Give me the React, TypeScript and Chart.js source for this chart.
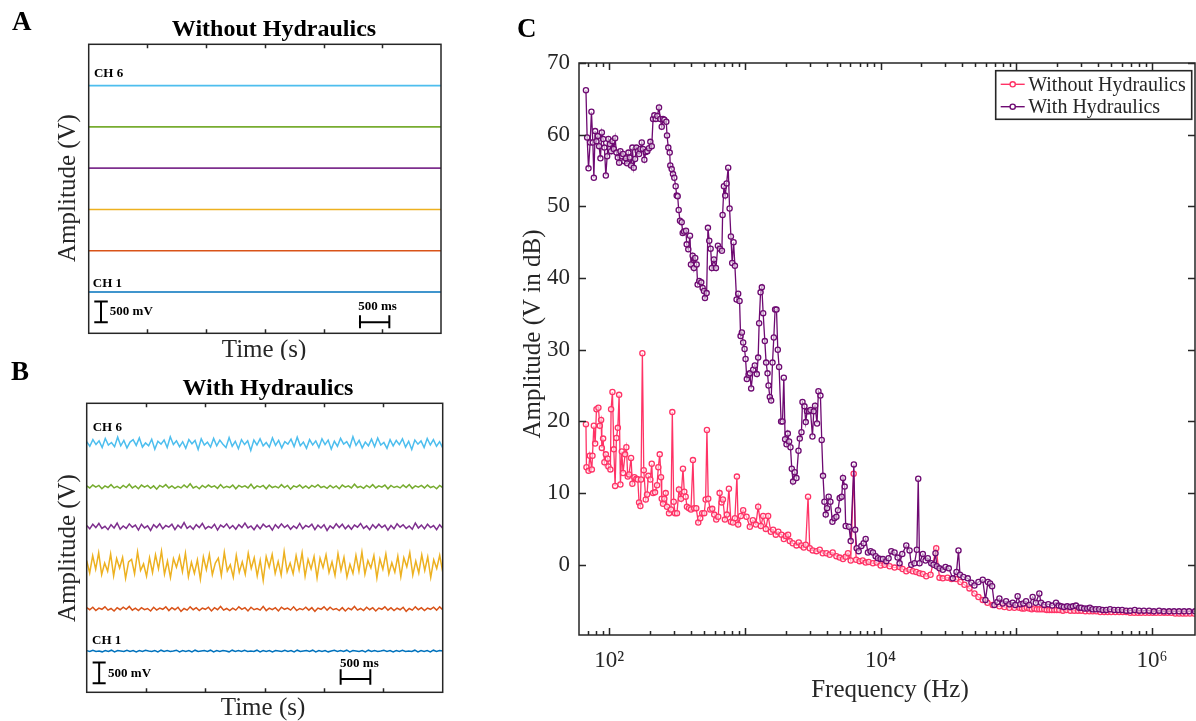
import React, { useEffect, useRef } from 'react';
import { Chart, registerables } from 'chart.js';

Chart.register(...registerables);

const SERIF = '"Liberation Serif", "Times New Roman", Times, serif';
const INK = '#262626';

/* ---------------- Panels A and B : six stacked channels ---------------- */
const channelColors = ['#0072BD', '#D95319', '#EDB120', '#7E2F8E', '#77AC30', '#4DBEEE'];
const timeTicksS = [1, 2, 3, 4, 5];
const traceDurationS = 6;

// A - without hydraulics: flat traces, stacked 1 V apart
const dryTimesS = [0, 6];
const dryLevelsV = [1, 2, 3, 4, 5, 6];

// B - with hydraulics: channel baselines (V) and noise around them (mV)
const wetBaselinesV = [1.0, 2.02, 3.07, 4.01, 4.98, 6.03];
const ch1NoiseMv = [10, -10, 20, -10, 0, -20, 10, -10, 20, -20, 10, 0, -10, 20, -10, 10, -20, 10, -10, 20, 0, -10, 10, -20, 20, -10, 10, -10, 0, 20, -20, 10, -10, 10, -20, 20, -10, 0, 10, -10, 20, -20, 10, -10, 10, 0, -20, 20, -10, 10, -10, 20, -10, 0, -10, 20, -20, 10, -10, 10, -20, 10, 0, -10, 20, -10, 10, -20, 20, -10, 0, 10, -10, 20, -20, 10, -10, 10, -20, 0, 20, -10, 10, -10, 20, -20, 10, 0, -10, 10, -20, 20, -10, 10, -10, 0, 20, -10, 10, -20, 10, -10, 20, -10, 0, -10, 20, -20, 10, -10, 10, -20, 20, -10, 10, 0];
const ch2NoiseMv = [30, -20, 40, -40, 20, -10, 50, -30, 10, -50, 30, -20, 40, -10, 60, -30, 20, -40, 30, -20, 10, -50, 40, -30, 20, -10, 50, -40, 30, -20, 40, -60, 10, -30, 50, -20, 30, -40, 20, -10, 40, -50, 30, -20, 60, -30, 10, -40, 20, -30, 50, -10, 30, -50, 40, -20, 10, -30, 60, -40, 20, -20, 30, -50, 40, -10, 20, -30, 50, -40, 10, -20, 40, -30, 30, -60, 20, -10, 50, -30, 40, -20, 10, -40, 30, -50, 20, -20, 60, -30, 10, -40, 40, -20, 30, -50, 20, -10, 50, -30, 30, -40, 20, -20, 40, -60, 10, -30, 50, -20, 30, -40, 20, -10, 40, -30, 50, -20];
const ch3NoiseMv = [120, -180, 240, -90, 310, -220, 60, -140, 280, -250, 170, -60, 200, -310, 90, 150, -200, 330, -120, 40, -260, 190, -170, 260, -80, 350, -210, 110, -290, 170, -40, 230, -150, 300, -270, 80, -190, 140, -330, 210, -100, 270, -220, 60, 180, -240, 320, -130, 20, -280, 250, -160, 90, -210, 300, -70, 190, -250, 130, -360, 220, -40, 270, -190, 100, -230, 340, -150, 60, -200, 240, -110, 310, -260, 150, -80, 220, -300, 180, -50, 260, -170, 90, -240, 290, -120, 200, -280, 30, -190, 250, -140, 330, -210, 120, -60, 240, -300, 160, -90, 280, -200, 70, -160, 230, -270, 190, -30, 310, -230, 110, -180, 260, -120, 210, -290, 140, -70, 250, -150];
const ch4NoiseMv = [30, -50, 60, -20, 80, -40, 10, -70, 50, -30, 90, -60, 20, -40, 70, -10, 40, -80, 60, -30, 20, -90, 50, -20, 70, -50, 30, -10, 60, -70, 40, -30, 100, -40, 20, -60, 50, -20, 80, -50, 10, -30, 60, -80, 40, -10, 70, -40, 30, -60, 50, -20, 90, -30, 20, -70, 40, -50, 60, -10, 30, -80, 50, -30, 70, -20, 40, -60, 20, -40, 80, -50, 30, -10, 60, -70, 40, -30, 50, -90, 20, -40, 70, -20, 60, -50, 30, -60, 40, -10, 80, -40, 20, -70, 50, -30, 60, -20, 40, -80, 30, -50, 70, -10, 50, -40, 20, -60, 90, -30, 40, -50, 60, -20, 30, -70, 50, -40];
const ch5NoiseMv = [20, -30, 40, -10, 30, -50, 20, -20, 50, -30, 10, -40, 30, -20, 60, -30, 20, -50, 40, -10, 30, -40, 20, -60, 30, -10, 50, -30, 20, -40, 10, -30, 40, -20, 70, -30, 10, -50, 30, -20, 40, -10, 20, -40, 50, -30, 10, -20, 40, -50, 30, -10, 20, -30, 60, -40, 20, -10, 30, -50, 40, -20, 10, -30, 50, -20, 30, -60, 20, -10, 40, -30, 20, -40, 30, -10, 50, -20, 10, -40, 30, -30, 20, -50, 40, -10, 20, -30, 60, -20, 10, -40, 30, -20, 50, -30, 20, -10, 40, -50, 30, -20, 10, -30, 40, -20, 50, -40, 20, -10, 30, -30, 40, -20, 10, -50, 30, -20];
const ch6NoiseMv = [40, -70, 90, -30, 60, -100, 120, -40, 20, -80, 150, -60, 70, -110, 30, 90, -50, 130, -90, 10, -60, 100, -140, 50, -20, 80, -100, 160, -30, 60, -80, 40, -120, 90, -10, 70, -150, 110, -40, 30, -90, 120, -60, 80, -20, -100, 140, -70, 50, -130, 90, -30, 60, -170, 80, -40, 110, -60, 20, -90, 130, -50, 70, -110, 40, -20, 100, -80, 150, -60, 30, -120, 90, -40, 60, -100, 110, -30, 80, -140, 50, -70, 120, -20, 40, -90, 160, -50, 70, -110, 30, -60, 100, -80, 130, -40, 20, -120, 90, -60, 70, -30, 110, -90, 50, -150, 80, -20, 60, -100, 120, -40, 90, -70, 40, -110];
const wetNoiseMv = [ch1NoiseMv, ch2NoiseMv, ch3NoiseMv, ch4NoiseMv, ch5NoiseMv, ch6NoiseMv];

// scale-bar annotations (time in s, amplitude in V)
const scaleBarsA = { vX: 0.21, vY: [0.27, 0.77], vCap: [0.095, 0.325], hX: [4.62, 5.12], hY: 0.27, hCap: [0.12, 0.44] };
const scaleBarsB = { vX: 0.21, vY: [0.22, 0.72], vCap: [0.1, 0.32], hX: [4.28, 4.78], hY: 0.32, hCap: [0.18, 0.56] };

/* ---------------- Panel C : spectra ---------------- */
const freqWithoutHz = [
  67.5, 68.1, 70.5, 72.1, 74.6, 75.4, 77.2, 78.9, 80.7, 83.4,
  85.4, 87.3, 88.4, 90.3, 92.3, 94.6, 97.8, 98.8, 102.2, 103.4,
  105.8, 108.3, 110.7, 113.2, 115.9, 118.5, 121.1, 124.0, 126.7, 131.1,
  134.0, 137.2, 140.3, 145.1, 148.3, 153.5, 158.8, 162.6, 166.2, 169.9,
  171.9, 175.8, 180.0, 186.2, 190.3, 194.5, 201.2, 206.1, 210.7, 217.9,
  225.4, 230.4, 236.0, 241.2, 244.1, 249.5, 255.1, 261.2, 267.0, 276.2,
  285.7, 292.1, 299.1, 305.8, 316.2, 327.1, 338.4, 350.0, 357.9, 366.4,
  374.5, 387.4, 400.8, 414.6, 423.8, 438.4, 453.5, 469.1, 485.3, 502.0,
  514.0, 525.5, 537.2, 555.7, 574.9, 594.7, 615.2, 636.4, 651.6, 674.1,
  689.0, 712.8, 737.4, 762.9, 789.2, 816.4, 844.6, 873.7, 892.9, 934.5,
  971.6, 1029, 1088, 1145, 1205, 1253, 1312, 1364, 1427, 1484,
  1554, 1615, 1690, 1764, 1862, 1936, 2002, 2082, 2142, 2253,
  2399, 2495, 2612, 2715, 2809, 2921, 3006, 3162, 3367, 3561,
  3746, 3988, 4217, 4437, 4724, 4995, 5283, 5530, 5751, 6020,
  6332, 6606, 7009, 7373, 7758, 8164, 8779, 9346, 10000, 10700,
  11650, 12670, 13800, 14510, 15450, 16340, 17280, 18300, 19360, 20460,
  21680, 23320, 25680, 27150, 28720, 31100, 33290, 36040, 38740, 41460,
  45120, 49120, 52560, 56530, 61220, 66950, 74990, 81600, 88820, 96670,
  105200, 110000, 114500, 119500, 124600, 130000, 135700, 141500, 147600, 154000,
  160600, 167500, 174800, 182500, 190300, 198500, 207200, 220000, 233200, 250000,
  267000, 284000, 300600, 322000, 344300, 365000, 387500, 415000, 443700, 470000,
  499500, 535000, 572000, 607000, 643800, 690000, 737300, 785000, 830100, 890000,
  950400, 1010000, 1070000, 1145000, 1225000, 1300000, 1380000, 1480000, 1580000, 1680000,
  1778000, 1900000, 2037000,
];
const dbWithout = [
  19.6, 13.6, 13.1, 15.2, 13.3, 15.2, 19.4, 16.9, 21.7, 21.9,
  19.4, 20.2, 16.3, 17.6, 14.3, 15.4, 14.8, 13.7, 13.3, 21.7,
  24.1, 16.1, 11.0, 17.7, 19.1, 23.7, 11.2, 15.8, 12.8, 15.4,
  16.4, 12.3, 12.6, 14.9, 11.3, 12.2, 12.0, 11.9, 8.7, 8.2,
  11.9, 29.5, 13.2, 9.1, 9.8, 12.4, 11.9, 14.1, 10.0, 10.1,
  11.1, 13.6, 15.4, 12.2, 9.2, 8.5, 9.2, 10.0, 8.1, 7.2,
  7.7, 21.3, 8.8, 7.2, 7.2, 10.5, 9.2, 13.4, 10.2, 9.5,
  8.1, 7.9, 7.7, 14.6, 7.9, 7.9, 5.9, 6.5, 7.2, 7.2,
  9.1, 18.8, 9.2, 7.7, 7.8, 7.0, 6.3, 6.7, 10.0, 8.7,
  9.1, 6.3, 7.0, 10.6, 6.0, 5.9, 6.5, 12.3, 5.6, 6.8,
  7.6, 6.7, 5.3, 6.2, 5.6, 8.1, 5.4, 6.8, 5.0, 6.8,
  4.6, 4.9, 4.2, 4.6, 4.2, 3.6, 4.0, 4.2, 3.3, 3.0,
  2.7, 3.1, 2.7, 2.4, 2.8, 9.5, 2.3, 2.0, 1.9, 2.1,
  1.6, 1.6, 1.4, 1.7, 1.2, 1.0, 0.8, 1.1, 1.6, 0.6,
  12.7, 0.7, 0.5, 0.6, 0.3, 0.4, 0.2, 0.3, -0.1, 0.0,
  -0.2, -0.4, -0.3, -0.6, -0.9, -0.7, -0.9, -1.0, -1.2, -1.3,
  -1.6, -1.4, 2.3, -1.8, -1.9, -1.8, -2.0, -2.0, -2.4, -2.8,
  -3.3, -4.0, -4.5, -4.9, -5.3, -5.6, -5.8, -5.9, -6.0, -6.0,
  -6.0, -6.1, -6.1, -6.0, -6.1, -6.2, -6.1, -6.2, -6.2, -6.2,
  -6.2, -6.3, -6.3, -6.3, -6.3, -6.3, -6.3, -6.4, -6.3, -6.4,
  -6.4, -6.4, -6.4, -6.5, -6.5, -6.5, -6.5, -6.6, -6.6, -6.6,
  -6.6, -6.6, -6.6, -6.6, -6.6, -6.7, -6.7, -6.7, -6.7, -6.7,
  -6.7, -6.7, -6.7, -6.7, -6.7, -6.7, -6.7, -6.8, -6.8, -6.8,
  -6.8, -6.8, -6.8,
];
const freqWithHz = [
  67.5, 68.9, 70.5, 72.5, 74.1, 75.9, 77.2, 78.9, 80.7, 82.6,
  84.4, 86.3, 88.4, 90.3, 92.3, 94.6, 96.7, 98.8, 101.2, 103.4,
  105.8, 108.3, 110.7, 113.2, 115.9, 118.5, 121.1, 124.0, 126.7, 129.6,
  132.7, 135.6, 138.7, 142.0, 145.1, 148.3, 151.9, 155.3, 158.8, 162.6,
  166.2, 169.9, 174.0, 177.8, 181.8, 186.2, 191.2, 196.8, 201.2, 206.1,
  210.7, 215.4, 220.5, 226.5, 233.1, 238.3, 244.1, 249.5, 255.1, 263.8,
  267.0, 272.9, 279.5, 282.3, 289.1, 295.5, 302.1, 309.3, 314.6, 320.0,
  325.5, 332.8, 342.5, 348.4, 356.1, 368.4, 372.8, 383.0, 394.2, 400.8,
  412.5, 421.7, 430.9, 441.4, 448.9, 461.3, 477.2, 488.7, 499.6, 508.2,
  523.0, 534.5, 546.5, 559.5, 572.0, 591.7, 612.0, 633.2, 655.0, 677.6,
  685.5, 700.9, 716.5, 733.6, 753.7, 771.7, 789.2, 806.7, 826.1, 844.6,
  869.0, 892.9, 914.2, 929.9, 950.4, 971.6, 995, 1012, 1034, 1065,
  1088, 1113, 1151, 1184, 1225, 1253, 1274, 1305, 1334, 1364,
  1403, 1434, 1469, 1494, 1527, 1561, 1598, 1634, 1670, 1710,
  1748, 1787, 1849, 1893, 1936, 1979, 2027, 2072, 2117, 2168,
  2216, 2265, 2331, 2399, 2483, 2538, 2612, 2657, 2748, 2809,
  2872, 2971, 3042, 3147, 3217, 3288, 3401, 3483, 3603, 3683,
  3764, 3855, 3941, 4028, 4146, 4267, 4415, 4567, 4724, 4853,
  4995, 5168, 5283, 5437, 5530, 5848, 6020, 6353, 6494, 6660,
  6891, 7215, 7499, 7758, 8065, 8444, 8779, 9188, 9553, 10000,
  10390, 11010, 11450, 11990, 12670, 13340, 13800, 14440, 15450, 16340,
  16820, 17780, 18490, 18930, 19360, 20460, 21430, 22270, 23600, 24530,
  25370, 25940, 27150, 28720, 30060, 31780, 34010, 36230, 37470, 38430,
  40770, 43850, 46680, 49120, 52560, 56530, 59180, 61730, 64060, 66270,
  68900, 72480, 74990, 79300, 84030, 88820, 93930, 98310, 102200, 107000,
  112600, 117900, 124600, 131800, 139100, 147600, 151900, 160600, 171900, 183900,
  195900, 205000, 214000, 224000, 236800, 249500, 261000, 274800, 290100, 300600,
  316000, 332800, 348000, 363900, 385000, 407800, 432000, 459000, 490000, 525600,
  562000, 601700, 645000, 689000, 745000, 802500, 870000, 950400, 1030000, 1126000,
  1220000, 1334000, 1450000, 1580000, 1720000, 1871000, 2071000,
];
const dbWith = [
  66.2, 59.6, 55.3, 58.9, 63.2, 58.9, 54.0, 60.5, 59.1, 59.8,
  58.4, 56.7, 60.3, 59.4, 58.2, 54.3, 57.0, 59.4, 58.7, 57.7,
  59.1, 58.0, 59.5, 57.5, 56.8, 56.1, 57.7, 57.0, 57.3, 56.3,
  56.7, 56.0, 57.5, 56.8, 55.7, 58.2, 55.4, 56.6, 58.2, 57.7,
  57.3, 58.0, 58.9, 58.0, 56.5, 57.6, 57.7, 58.1, 59.0, 58.4,
  62.2, 62.7, 62.2, 62.6, 63.8, 62.2, 61.1, 62.2, 62.1, 61.8,
  59.9, 58.2, 57.5, 55.7, 55.2, 54.5, 54.0, 52.8, 51.5, 51.4,
  49.5, 48.0, 47.8, 46.3, 46.5, 46.6, 44.7, 44.0, 45.9, 41.9,
  43.1, 41.4, 42.8, 41.9, 39.1, 39.6, 39.4, 38.6, 38.2, 37.2,
  37.9, 47.0, 45.2, 44.1, 41.4, 42.6, 41.4, 44.5, 44.1, 43.8,
  48.8, 52.8, 51.5, 53.2, 55.4, 49.7, 45.8, 42.1, 45.0, 41.7,
  37.0, 37.8, 36.8, 31.9, 32.4, 31.0, 30.1, 28.7, 25.9, 26.5,
  26.7, 24.6, 27.2, 27.8, 26.6, 28.9, 33.7, 38.0, 38.7, 35.1,
  31.2, 28.2, 26.7, 25.0, 23.4, 22.9, 28.2, 31.7, 35.6, 35.6,
  30.0, 27.6, 20.0, 20.0, 26.1, 17.5, 16.8, 18.3, 17.2, 16.4,
  13.4, 11.6, 12.9, 12.1, 15.9, 17.6, 18.5, 22.7, 22.1, 19.9,
  21.4, 21.4, 21.6, 17.9, 21.4, 22.2, 19.7, 24.2, 23.6, 17.4,
  12.4, 8.8, 7.0, 7.9, 9.5, 8.8, 6.0, 6.5, 6.7, 7.6,
  9.3, 9.5, 12.1, 10.9, 5.4, 5.3, 3.3, 14.0, 4.9, 2.3,
  1.9, 2.6, 3.0, 3.6, 1.7, 1.9, 1.7, 1.2, 0.9, 0.8,
  0.8, 0.5, 0.9, 1.9, 1.7, 1.0, 0.2, 1.5, 2.7, 2.0,
  0.0, 0.2, 2.1, 12.0, 0.2, 1.5, 0.6, 0.9, 0.2, 0.0,
  1.6, -0.2, -0.5, -0.7, -0.3, -0.5, -1.9, -1.0, 2.0, -1.4,
  -1.7, -1.9, -2.5, -2.9, -2.4, -2.1, -4.9, -2.4, -2.6, -3.0,
  -5.6, -5.2, -4.7, -5.4, -5.1, -5.5, -5.3, -5.6, -4.4, -5.5,
  -5.4, -5.1, -5.6, -4.5, -5.3, -4.0, -5.3, -5.6, -5.5, -5.7,
  -5.3, -5.7, -5.8, -5.9, -5.8, -5.9, -5.8, -5.7, -6.0, -6.0,
  -6.1, -6.1, -6.0, -6.2, -6.2, -6.2, -6.3, -6.3, -6.2, -6.3,
  -6.3, -6.3, -6.4, -6.4, -6.3, -6.4, -6.4, -6.4, -6.5, -6.4,
  -6.5, -6.5, -6.5, -6.5, -6.5, -6.5, -6.5,
];
const seriesNames = ['Without Hydraulics', 'With Hydraulics'];
const seriesColors = ['#FF3366', '#6E0A72'];
const ampTicksDb = [0, 10, 20, 30, 40, 50, 60, 70];
const freqTickLabels: Record<number, string> = { 100: '10\u00B2', 10000: '10\u2074', 1000000: '10\u2076' };
const freqMinorTicks = [60, 70, 80, 90];
const freqDecades = [100, 1000, 10000, 100000];
const freqMax = 2.07e6;

/* ---------------- helpers ---------------- */
function scaleBarData(b: any) {
  return [
    { x: b.vX, y: b.vY[0] }, { x: b.vX, y: b.vY[1] }, { x: b.vX, y: null },
    { x: b.vCap[0], y: b.vY[0] }, { x: b.vCap[1], y: b.vY[0] }, { x: b.vCap[1], y: null },
    { x: b.vCap[0], y: b.vY[1] }, { x: b.vCap[1], y: b.vY[1] }, { x: b.vCap[1], y: null },
    { x: b.hX[0], y: b.hY }, { x: b.hX[1], y: b.hY }, { x: b.hX[1], y: null },
    { x: b.hX[0], y: b.hCap[0] }, { x: b.hX[0], y: b.hCap[1] }, { x: b.hX[0], y: null },
    { x: b.hX[1], y: b.hCap[0] }, { x: b.hX[1], y: b.hCap[1] },
  ];
}

const tracePanelPlugin = {
  id: 'tracePanel',
  afterDraw(chart: any, _args: any, o: any) {
    const { ctx, chartArea: a, scales } = chart;
    const xs = scales.x;
    const ys = scales.y;
    ctx.save();
    ctx.strokeStyle = INK;
    ctx.lineWidth = 1.5;
    ctx.strokeRect(a.left, a.top, a.right - a.left, a.bottom - a.top);
    ctx.beginPath();
    for (const t of timeTicksS) {
      const px = Math.round(xs.getPixelForValue(t)) + 0.5;
      ctx.moveTo(px, a.top);
      ctx.lineTo(px, a.top + 4);
      ctx.moveTo(px, a.bottom);
      ctx.lineTo(px, a.bottom - 4);
    }
    ctx.stroke();

    ctx.textBaseline = 'alphabetic';
    ctx.fillStyle = '#000';
    ctx.textAlign = 'left';
    ctx.font = `bold 27px ${SERIF}`;
    ctx.fillText(o.letter, o.letterX, o.letterY);

    ctx.textAlign = 'center';
    ctx.font = `bold 24px ${SERIF}`;
    ctx.fillText(o.title, o.titleX, o.titleY);

    ctx.fillStyle = INK;
    ctx.font = `25px ${SERIF}`;
    ctx.fillText('Time (s)', o.xTitleX, o.xTitleY);
    ctx.save();
    ctx.translate(o.yTitleX, o.yTitleY);
    ctx.rotate(-Math.PI / 2);
    ctx.textBaseline = 'middle';
    ctx.fillText('Amplitude (V)', 0, 0);
    ctx.restore();

    ctx.fillStyle = '#000';
    ctx.textAlign = 'left';
    ctx.textBaseline = 'alphabetic';
    ctx.font = `bold 13px ${SERIF}`;
    for (const l of o.labels) {
      ctx.fillText(l.text, xs.getPixelForValue(l.t), ys.getPixelForValue(l.v));
    }
    ctx.restore();
  },
};

function tracePanelConfig(traces: any[], bars: any, padding: any, decor: any, lineWidth: number) {
  return {
    type: 'line',
    data: {
      datasets: [
        ...traces.map((pts, i) => ({
          data: pts,
          borderColor: channelColors[i],
          borderWidth: lineWidth,
          pointRadius: 0,
          tension: 0,
          fill: false,
        })),
        {
          data: scaleBarData(bars),
          borderColor: '#000',
          borderWidth: 2,
          pointRadius: 0,
          tension: 0,
          fill: false,
          spanGaps: false,
        },
      ],
    },
    options: {
      animation: false,
      responsive: false,
      devicePixelRatio: 1,
      events: [],
      layout: { padding, autoPadding: false },
      scales: {
        x: { type: 'linear', min: 0, max: traceDurationS, display: false },
        y: { type: 'linear', min: 0, max: 7, display: false },
      },
      plugins: { legend: { display: false }, tooltip: { enabled: false }, tracePanel: decor },
    },
    plugins: [tracePanelPlugin],
  };
}

const spectrumPlugin = {
  id: 'spectrumDecor',
  afterDraw(chart: any) {
    const { ctx, chartArea: a, scales } = chart;
    const xs = scales.x;
    const ys = scales.y;
    ctx.save();
    ctx.strokeStyle = INK;
    ctx.lineWidth = 1.5;
    ctx.strokeRect(a.left, a.top, a.right - a.left, a.bottom - a.top);
    ctx.beginPath();
    for (const t of xs.ticks) {
      const px = Math.round(xs.getPixelForValue(t.value)) + 0.5;
      if (px < a.left + 2 || px > a.right - 2) continue;
      const lg = Math.log10(t.value);
      const len = Math.abs(lg - Math.round(lg)) < 1e-9 ? 7 : 4;
      ctx.moveTo(px, a.bottom);
      ctx.lineTo(px, a.bottom - len);
      ctx.moveTo(px, a.top);
      ctx.lineTo(px, a.top + len);
    }
    for (const t of ys.ticks) {
      const py = Math.round(ys.getPixelForValue(t.value)) + 0.5;
      ctx.moveTo(a.left, py);
      ctx.lineTo(a.left + 7, py);
      ctx.moveTo(a.right, py);
      ctx.lineTo(a.right - 7, py);
    }
    ctx.stroke();

    // legend
    const lx = 495.7;
    const ly = 70.7;
    ctx.fillStyle = '#fff';
    ctx.fillRect(lx, ly, 196, 48.6);
    ctx.strokeStyle = INK;
    ctx.lineWidth = 1.6;
    ctx.strokeRect(lx, ly, 196, 48.6);
    ctx.font = `20px ${SERIF}`;
    ctx.textAlign = 'left';
    ctx.textBaseline = 'middle';
    seriesNames.forEach((name, i) => {
      const yy = ly + 13.6 + i * 22.4;
      ctx.strokeStyle = seriesColors[i];
      ctx.lineWidth = 1.4;
      ctx.beginPath();
      ctx.moveTo(lx + 5, yy);
      ctx.lineTo(lx + 29, yy);
      ctx.stroke();
      ctx.beginPath();
      ctx.arc(lx + 17, yy, 2.6, 0, Math.PI * 2);
      ctx.fillStyle = '#fff';
      ctx.fill();
      ctx.stroke();
      ctx.fillStyle = INK;
      ctx.fillText(name, lx + 32.5, yy + 1);
    });

    // titles and panel letter
    ctx.fillStyle = INK;
    ctx.font = `25px ${SERIF}`;
    ctx.textAlign = 'center';
    ctx.textBaseline = 'middle';
    ctx.fillText('Frequency (Hz)', 390, 690);
    ctx.save();
    ctx.translate(33, 334);
    ctx.rotate(-Math.PI / 2);
    ctx.fillText('Amplitude (V in dB)', 0, 0);
    ctx.restore();

    ctx.fillStyle = '#000';
    ctx.textAlign = 'left';
    ctx.textBaseline = 'alphabetic';
    ctx.font = `bold 27px ${SERIF}`;
    ctx.fillText('C', 17, 36.7);
    ctx.restore();
  },
};

function spectrumConfig() {
  const sets = [
    { f: freqWithoutHz, v: dbWithout, order: 2 },
    { f: freqWithHz, v: dbWith, order: 1 },
  ];
  const xTicks: number[] = [...freqMinorTicks];
  for (const d of freqDecades) for (let k = 1; k <= 9; k++) xTicks.push(k * d);
  xTicks.push(1e6, 2e6);
  return {
    type: 'line',
    data: {
      datasets: sets.map((s, i) => ({
        label: seriesNames[i],
        data: s.f.map((f, j) => ({ x: f, y: s.v[j] })),
        borderColor: seriesColors[i],
        borderWidth: 1.3,
        pointRadius: 2.6,
        pointBorderWidth: 1.3,
        pointBorderColor: seriesColors[i],
        pointBackgroundColor: 'rgba(255,255,255,0.55)',
        tension: 0,
        fill: false,
        order: s.order,
      })),
    },
    options: {
      animation: false,
      responsive: false,
      devicePixelRatio: 1,
      events: [],
      layout: { padding: { top: 63, right: 1, left: 0, bottom: 0 }, autoPadding: false },
      scales: {
        x: {
          type: 'logarithmic',
          min: 60,
          max: freqMax,
          grid: { display: false, drawTicks: false },
          border: { display: false },
          afterBuildTicks: (s: any) => { s.ticks = xTicks.map((v) => ({ value: v })); },
          afterFit: (s: any) => { s.height = 86; s.paddingLeft = 0; s.paddingRight = 0; },
          ticks: {
            autoSkip: false,
            maxRotation: 0,
            minRotation: 0,
            padding: 12,
            color: INK,
            font: { family: SERIF, size: 23 },
            callback: (v: any) => freqTickLabels[v as number] || '',
          },
        },
        y: {
          type: 'linear',
          min: -9.8,
          max: 70,
          grid: { display: false, drawTicks: false },
          border: { display: false },
          afterBuildTicks: (s: any) => { s.ticks = ampTicksDb.map((v) => ({ value: v })); },
          afterFit: (s: any) => { s.width = 79; s.paddingTop = 0; s.paddingBottom = 0; },
          ticks: {
            padding: 9,
            color: INK,
            font: { family: SERIF, size: 23 },
            callback: (v: any) => String(v),
          },
        },
      },
      plugins: { legend: { display: false }, tooltip: { enabled: false } },
    },
    plugins: [spectrumPlugin],
  };
}

export default function App() {
  const refA = useRef<HTMLCanvasElement>(null);
  const refB = useRef<HTMLCanvasElement>(null);
  const refC = useRef<HTMLCanvasElement>(null);

  useEffect(() => {
    const dryTraces = dryLevelsV.map((lvl) => dryTimesS.map((t) => ({ x: t, y: lvl })));
    const wetTraces = wetNoiseMv.map((noise, i) =>
      noise.map((mv, j) => ({ x: (j * traceDurationS) / (noise.length - 1), y: wetBaselinesV[i] + mv / 1000 }))
    );
    const charts = [
      new Chart(
        refA.current as any,
        tracePanelConfig(dryTraces, scaleBarsA, { left: 88.7, top: 44.3, right: 59, bottom: 26.7 }, {
          letter: 'A', letterX: 12, letterY: 29.5,
          title: 'Without Hydraulics', titleX: 274, titleY: 36,
          xTitleX: 264, xTitleY: 357, yTitleX: 68, yTitleY: 188,
          labels: [
            { text: 'CH 6', t: 0.09, v: 6.2 },
            { text: 'CH 1', t: 0.07, v: 1.11 },
            { text: '500 mV', t: 0.36, v: 0.44 },
            { text: '500 ms', t: 4.59, v: 0.56 },
          ],
        }, 1.6) as any
      ),
      new Chart(
        refB.current as any,
        tracePanelConfig(wetTraces, scaleBarsB, { left: 86.7, top: 43.3, right: 57.3, bottom: 28.7 }, {
          letter: 'B', letterX: 11, letterY: 19.5,
          title: 'With Hydraulics', titleX: 268, titleY: 35,
          xTitleX: 263, xTitleY: 355, yTitleX: 68, yTitleY: 188,
          labels: [
            { text: 'CH 6', t: 0.1, v: 6.33 },
            { text: 'CH 1', t: 0.09, v: 1.17 },
            { text: '500 mV', t: 0.36, v: 0.36 },
            { text: '500 ms', t: 4.27, v: 0.61 },
          ],
        }, 1.5) as any
      ),
      new Chart(refC.current as any, spectrumConfig() as any),
    ];
    return () => charts.forEach((c) => c.destroy());
  }, []);

  return (
    <div style={{ position: 'absolute', left: 0, top: 0, width: 1196, height: 721, background: '#fff', overflow: 'hidden' }}>
      <canvas ref={refA} width={500} height={360} style={{ position: 'absolute', left: 0, top: 0 }} />
      <canvas ref={refB} width={500} height={361} style={{ position: 'absolute', left: 0, top: 360 }} />
      <canvas ref={refC} width={696} height={721} style={{ position: 'absolute', left: 500, top: 0 }} />
    </div>
  );
}
